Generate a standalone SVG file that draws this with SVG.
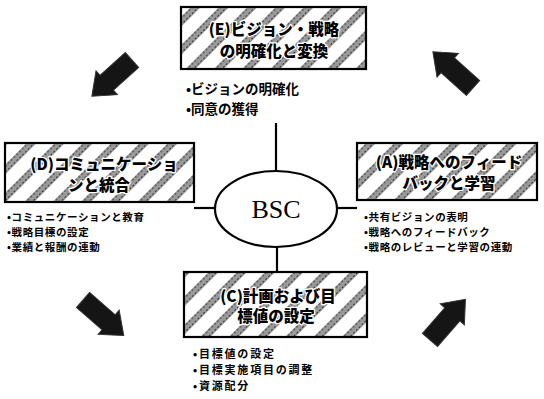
<svg xmlns="http://www.w3.org/2000/svg" width="544" height="399" viewBox="0 0 544 399">
<style>
.box{fill:url(#hatch);stroke:#000;stroke-width:2.2}
.ttl{font-family:"Noto Sans CJK JP","Noto Sans",sans-serif;font-weight:900;font-size:15.5px;fill:#000;text-anchor:middle;stroke:#fff;stroke-width:2.5px;paint-order:stroke;stroke-linejoin:round}
.bl{font-family:"Noto Sans CJK JP","Noto Sans",sans-serif;font-weight:700;fill:#000}
.ln{stroke:#000;stroke-width:2.2;fill:none}
.arr{fill:#151515;stroke:#333;stroke-width:1}
</style>
<defs>
<pattern id="hatch" width="20" height="20" patternUnits="userSpaceOnUse" patternTransform="rotate(45)">
<rect width="20" height="20" fill="#fff"/>
<rect x="0" y="0" width="7" height="20" fill="#9a9a9a"/>
<line x1="1" y1="0" x2="1" y2="20" stroke="#333" stroke-width="1" stroke-dasharray="2 2"/>
<line x1="5.5" y1="0" x2="5.5" y2="20" stroke="#333" stroke-width="1" stroke-dasharray="2 2"/>
</pattern>
<path id="arrow" d="M0,-10 L34,-10 L34,-16 L54,0 L34,16 L34,10 L0,10 Z"/>
</defs>
<rect width="544" height="399" fill="#fff"/>

<g id="connectors">
<line class="ln" x1="276" y1="123" x2="276" y2="171"/>
<line class="ln" x1="277" y1="247" x2="277" y2="272"/>
<line class="ln" x1="194" y1="208" x2="215" y2="208"/>
<line class="ln" x1="337" y1="208" x2="357" y2="208"/>
</g>

<g id="cycle-arrows">
<use href="#arrow" class="arr" transform="translate(132,60) rotate(138)"/>
<use href="#arrow" class="arr" transform="translate(473,88) rotate(-138)"/>
<use href="#arrow" class="arr" transform="translate(83,300) rotate(41)"/>
<use href="#arrow" class="arr" transform="translate(430,340) rotate(-49)"/>
</g>

<g id="node-bsc">
<ellipse cx="276" cy="209" rx="61" ry="38" fill="#fff" stroke="#000" stroke-width="2.2"/>
<text x="276" y="218" font-family="Liberation Serif,serif" font-size="26" text-anchor="middle">BSC</text>
</g>

<g id="node-e">
<rect class="box" x="181" y="7" width="185" height="62"/>
<text class="ttl" x="274" y="35">(E)ビジョン・戦略</text>
<text class="ttl" x="274" y="57">の明確化と変換</text>
<text class="bl" x="186" y="94" font-size="13.5">•ビジョンの明確化</text>
<text class="bl" x="186" y="114" font-size="13.5">•同意の獲得</text>
</g>

<g id="node-d">
<rect class="box" x="5" y="143" width="189" height="59"/>
<text class="ttl" x="104" y="170">(D)コミュニケーショ</text>
<text class="ttl" x="99" y="191">ンと統合</text>
<text class="bl" x="7" y="221" font-size="10.5" letter-spacing="0.6">•コミュニケーションと教育</text>
<text class="bl" x="7" y="236" font-size="10.5" letter-spacing="0.6">•戦略目標の設定</text>
<text class="bl" x="7" y="251" font-size="10.5" letter-spacing="0.6">•業績と報酬の連動</text>
</g>

<g id="node-a">
<rect class="box" x="357" y="143" width="180" height="57"/>
<text class="ttl" x="449" y="168">(A)戦略へのフィード</text>
<text class="ttl" x="449" y="189">バックと学習</text>
<text class="bl" x="364" y="221" font-size="10.5" letter-spacing="0.6">•共有ビジョンの表明</text>
<text class="bl" x="364" y="236" font-size="10.5" letter-spacing="0.6">•戦略へのフィードバック</text>
<text class="bl" x="364" y="251" font-size="10.5" letter-spacing="0.6">•戦略のレビューと学習の連動</text>
</g>

<g id="node-c">
<rect class="box" x="184" y="272" width="183" height="65"/>
<text class="ttl" x="278" y="302">(C)計画および目</text>
<text class="ttl" x="276" y="322">標値の設定</text>
<text class="bl" x="193" y="358" font-size="11" letter-spacing="1.8">•目標値の設定</text>
<text class="bl" x="193" y="374" font-size="11" letter-spacing="1.8">•目標実施項目の調整</text>
<text class="bl" x="193" y="390" font-size="11" letter-spacing="1.8">•資源配分</text>
</g>
</svg>
